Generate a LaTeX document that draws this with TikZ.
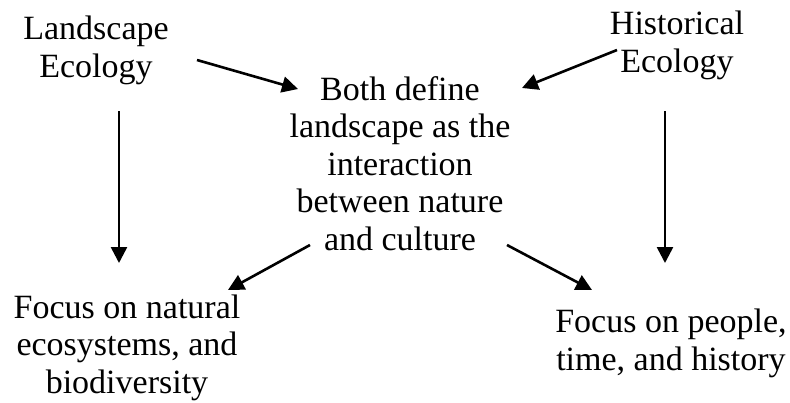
\documentclass[tikz,border=0pt]{standalone}
\usepackage{fontspec}
\setmainfont{Liberation Serif}
\usetikzlibrary{arrows.meta}
\begin{document}
\begin{tikzpicture}[x=1pt,y=-1pt,
  label/.style={align=center,inner sep=0pt,anchor=base,
    font=\fontsize{34}{37.5}\selectfont},
  link/.style={line width=2.6pt,-{Triangle[length=16pt,width=16pt]}}]
\useasboundingbox[fill=white] (0,0) rectangle (790,402);
% text blocks (anchored at the baseline of the last line)
\node[label] (le) at (96,77) {Landscape\\Ecology};
\node[label] (he) at (677,72) {Historical\\Ecology};
\node[label] (both) at (400,250) {Both define\\landscape as the\\interaction\\between nature\\and culture};
\node[label] (nat) at (127,393) {Focus on natural\\ecosystems, and\\biodiversity};
\node[label] (ppl) at (671,370) {Focus on people,\\time, and history};
% connector ends
\coordinate (le-out) at (197,60);
\coordinate (both-inl) at (298,89);
\coordinate (he-out) at (617,50);
\coordinate (both-inr) at (522,88);
\coordinate (le-down) at (119,111);
\coordinate (nat-in) at (119,263);
\coordinate (he-down) at (665,111);
\coordinate (ppl-in) at (665,263);
\coordinate (both-outl) at (310,245);
\coordinate (nat-side) at (228,290);
\coordinate (both-outr) at (507,245);
\coordinate (ppl-side) at (592,290);
% connectors
\draw[link] (le-out) -- (both-inl);
\draw[link] (he-out) -- (both-inr);
\draw[link] (le-down) -- (nat-in);
\draw[link] (he-down) -- (ppl-in);
\draw[link] (both-outl) -- (nat-side);
\draw[link] (both-outr) -- (ppl-side);
\end{tikzpicture}
\end{document}
